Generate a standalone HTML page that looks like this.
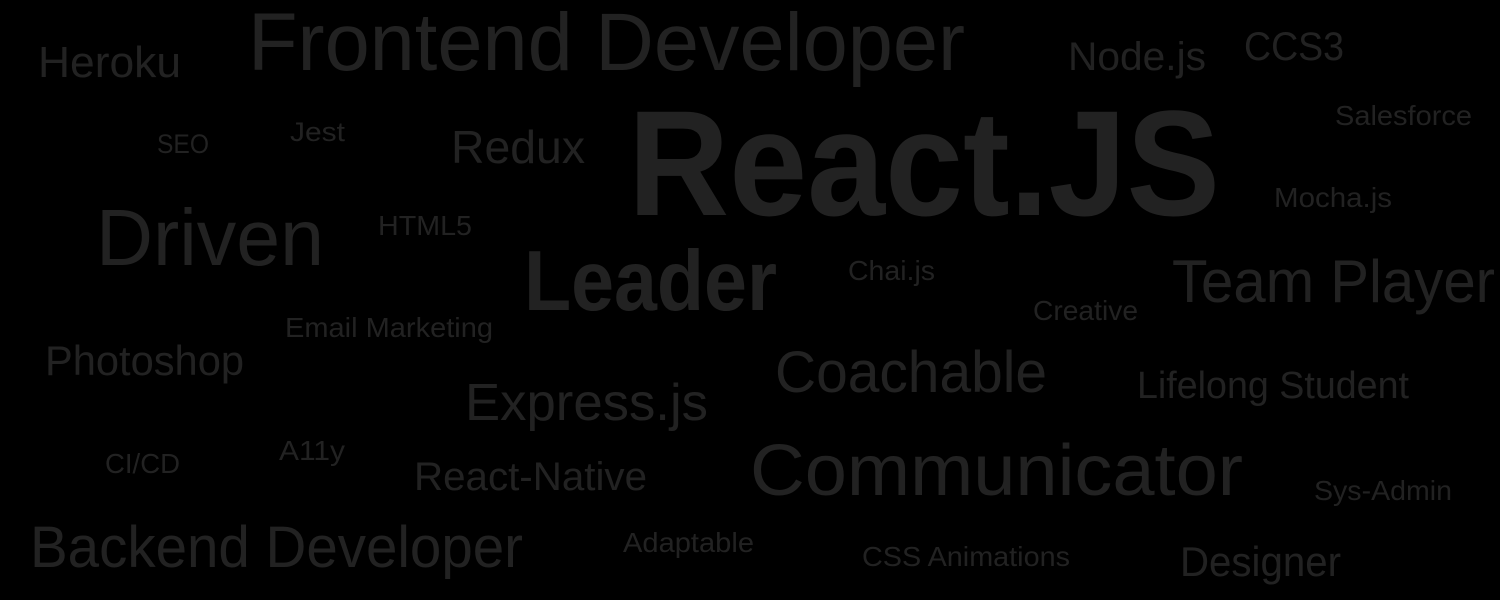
<!DOCTYPE html>
<html><head><meta charset="utf-8"><style>
html,body{margin:0;padding:0;background:#000;}
svg{display:block;}
text{font-family:"Liberation Sans",sans-serif;fill:#222;}
</style></head><body>
<svg width="1500" height="600" viewBox="0 0 1500 600">
<rect width="1500" height="600" fill="#000"/>
<g id="words"></g>
</svg>
<script>
const words = ["Frontend Developer","Heroku","Node.js","CCS3","Salesforce","SEO","Jest","Redux","React.JS","Mocha.js","Driven","HTML5","Leader","Chai.js","Team Player","Creative","Email Marketing","Photoshop","Coachable","Lifelong Student","Express.js","CI/CD","A11y","React-Native","Communicator","Sys-Admin","Backend Developer","Adaptable","CSS Animations","Designer"];
const sizes = [82,44,40,40,28,27,27,46,150,28,80,28,85,28,60,28,28,42,58,38,52,28,28,40,72,28,58,28,28,42];
const bold = [0,0,0,0,0,0,0,0,1,0,0,0,1,0,0,0,0,0,0,0,0,0,0,0,0,0,0,0,0,0];
const layoutX = [248,38,1068,1244,1335,157,290,451,628,1274,96,378,524,848,1172,1033,285,45,775,1137,465,105,279,414,750,1314,30,623,862,1180];
const layoutY = [70,77,70,60,125,153,141,163,215,207,265,235,310,280,302,320,337,375,392,398,420,473,460,490,495,500,567,552,566,576];
const layoutW = [717,143,138,100,137,52,55,134,592,118,228,94,253,87,323,105,208,199,272,272,243,75,66,233,493,138,493,131,208,161];
const g = document.getElementById('words');
words.forEach((w,i)=>{
  const t = document.createElementNS('http://www.w3.org/2000/svg','text');
  t.setAttribute('x', layoutX[i]);
  t.setAttribute('y', layoutY[i]);
  t.setAttribute('font-size', sizes[i]);
  if (bold[i]) t.setAttribute('font-weight','bold');
  t.setAttribute('textLength', layoutW[i]);
  t.setAttribute('lengthAdjust','spacingAndGlyphs');
  t.textContent = w;
  
  
  g.appendChild(t);
});
</script>
</body></html>
